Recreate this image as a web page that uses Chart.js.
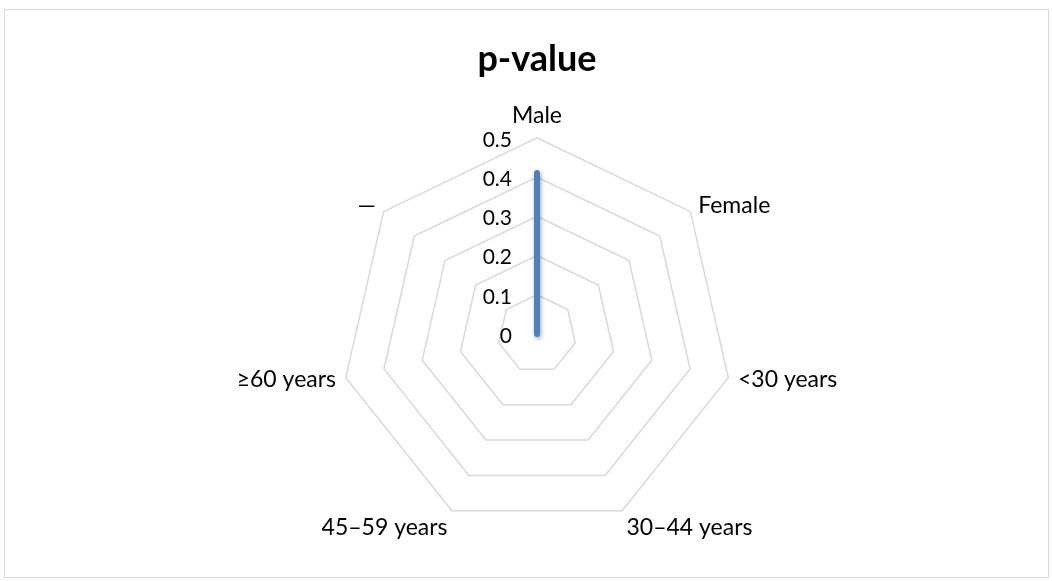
<!DOCTYPE html>
<html>
<head>
<meta charset="utf-8">
<script src="https://cdn.jsdelivr.net/npm/chart.js@4"></script>
<style>
  body { margin: 0; background: #fff; }
  #box { position: absolute; left: 4px; top: 9px; width: 1043px; height: 567px; border: 1px solid #d9d9d9; }
  #wrap { position: absolute; left: 0; top: 0; width: 1043px; height: 567px; }
</style>
</head>
<body>
<div id="box"><div id="wrap"><canvas id="radarChart"></canvas></div></div>
<script>
const categories = ["Male", "Female", "<30 years", "30–44 years", "45–59 years", "≥60 years", "—"];
const pValues = [0.41, 0, 0, 0, 0, 0, 0];
const tickLabels = ["0", "0.1", "0.2", "0.3", "0.4", "0.5"];

const FONT = "Lato, 'Open Sans', sans-serif";

// tick labels sit left of the vertical axis, like in the office chart
const leftTicks = {
    id: "leftTicks",
    afterDraw(chart){
        const scale = chart.scales.r;
        const ctx = chart.ctx;
        ctx.save();
        ctx.font = "21px " + FONT;
        ctx.fillStyle = "#000";
        ctx.textAlign = "right";
        ctx.textBaseline = "middle";
        tickLabels.forEach(t => {
            const d = scale.getDistanceFromCenterForValue(parseFloat(t));
            ctx.fillText(t, scale.xCenter - 25, scale.yCenter - d + 2);
        });
        ctx.restore();
    }
}

// category labels: side ones centred on the spoke, top/bottom ones above/below
const axisLabels = {
    id: "axisLabels",
    afterDraw(chart){
        const scale = chart.scales.r;
        const ctx = chart.ctx;
        ctx.save();
        ctx.font = "23px " + FONT;
        ctx.fillStyle = "#000";
        ctx.textBaseline = "middle";
        categories.forEach((c, i) => {
            const a = scale.getIndexAngle(i);
            const s = Math.sin(a), co = Math.cos(a);
            const p = scale.getPointPosition(i, scale.drawingArea + 10);
            let y = p.y;
            if (co > 0.8) y -= 12;
            else if (co < -0.8) y += 8;
            ctx.textAlign = Math.abs(s) < 0.1 ? "center" : (s > 0 ? "left" : "right");
            ctx.fillText(c, p.x, y);
        });
        ctx.restore();
    }
}

const lineShadow = {
    id: "lineShadow",
    beforeDatasetsDraw(chart){
        chart.ctx.save();
        chart.ctx.shadowColor = "rgba(0,0,0,0.35)";
        chart.ctx.shadowBlur = 4;
        chart.ctx.shadowOffsetX = 1;
        chart.ctx.shadowOffsetY = 2;
    },
    afterDatasetsDraw(chart){
        chart.ctx.restore();
    }
}

new Chart(document.getElementById("radarChart"),{
    type:"radar",
    data:{
        labels:categories,
        datasets:[{
            label:"p-value",
            data:pValues,
            borderColor:"#4f81bd",
            borderWidth:6,
            borderCapStyle:"round",
            borderJoinStyle:"round",
            backgroundColor:"transparent",
            fill:false,
            pointRadius:0
        }]
    },
    options: {
        responsive:true,
        maintainAspectRatio:false,
        animation:false,
        layout: { padding: { top: 0, bottom: 21, left: 21, right: 0 } },
        plugins: {
            legend: { display:false },
            tooltip: { enabled:false },
            title: {
                display:true,
                text:"p-value",
                color:"#000",
                font: { size: 36, weight: "bold", family: FONT },
                padding: { top: 28, bottom: 9 }
            }
        },
        scales: {
            r: {
                min:0,
                max:0.5,
                ticks: { stepSize:0.1, display:false },
                grid: { color:"#d9d9d9", lineWidth:1.5 },
                angleLines: { display:false },
                pointLabels: {
                    color:"rgba(0,0,0,0)",
                    padding:9,
                    font: { size: 23, family: FONT }
                }
            }
        }
    },
    plugins:[leftTicks, axisLabels, lineShadow]
})
</script>
</body>
</html>
